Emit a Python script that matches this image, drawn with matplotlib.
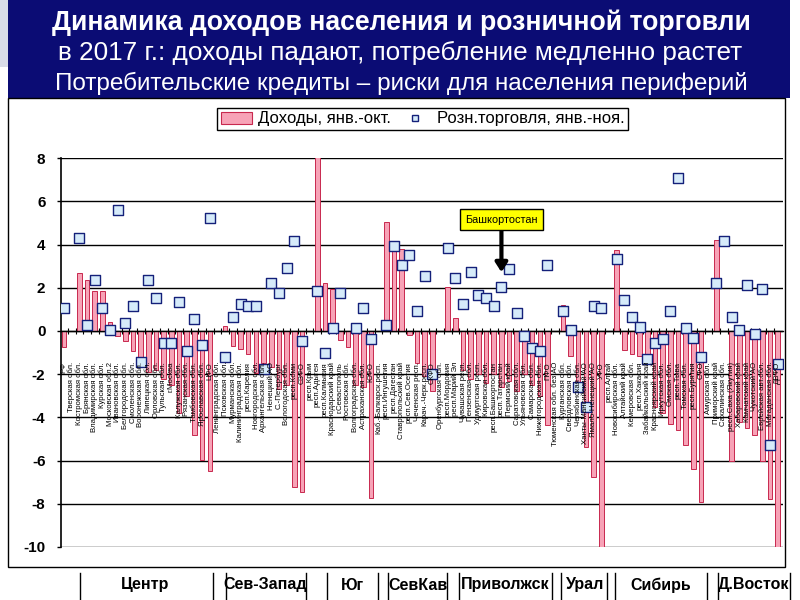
import numpy as np
import matplotlib
matplotlib.use("Agg")
import matplotlib.pyplot as plt
from matplotlib.patches import Rectangle, Patch
from matplotlib.lines import Line2D

plt.rcParams['font.family'] = ['Liberation Sans', 'DejaVu Sans']
FONT = ['Liberation Sans', 'DejaVu Sans']

nan = np.nan
regions = [
    "РФ", "Тверская обл.", "Костромская обл.", "Брянская обл.", "Владимирская обл.",
    "Курская обл.", "Московская обл.2", "Ивановская обл.", "Белгородская обл.",
    "Смоленская обл.", "Воронежская обл.", "Липецкая обл.", "Орловская обл.",
    "Тульская обл.", "г.Москва", "Калужская обл.", "Рязанская обл.", "Тамбовская обл.",
    "Ярославская обл.", "ЦФО",
    "Ленинградская обл.", "Псковская обл.", "Мурманская обл.", "Калининградская обл.",
    "респ.Карелия", "Новгородская обл.", "Архангельская обл.", "Ненецкий АО",
    "С.-Петербург", "Вологодская обл.", "респ.Коми", "СЗФО",
    "респ.Крым", "респ.Адыгея", "респ.Калмыкия", "Краснодарский край", "г.Севастополь",
    "Ростовская обл.", "Волгоградская обл.", "Астраханская обл.", "ЮФО",
    "Каб.-Балкарск.респ.", "респ.Ингушетия", "респ.Дагестан", "Ставропольский край",
    "респ.Сев.Осетия", "Чеченская респ.", "Карач.-Черк.респ.", "СКФО",
    "Оренбургская обл.", "респ.Мордовия", "респ.Марий Эл", "Чувашская респ.",
    "Пензенская обл.", "Удмуртская респ.", "Кировская обл.", "респ.Башкортостан",
    "респ.Татарстан", "Пермский край", "Саратовская обл.", "Ульяновская обл.",
    "Самарская обл.", "Нижегородская обл.", "ПФО",
    "Тюменская обл. без АО", "Курганская обл.", "Свердловская обл.", "Челябинская обл.",
    "Ханты-Мансийский АО", "Ямало-Ненецкий АО", "УФО",
    "респ.Алтай", "Новосибирская обл.", "Алтайский край", "Кемеровская обл.",
    "респ.Хакасия", "Забайкальский край", "Красноярский край", "Иркутская обл.",
    "Омская обл.", "респ.Тыва", "Томская обл.", "респ.Бурятия", "СФО",
    "Амурская обл.", "Приморский край", "Сахалинская обл.", "респ.Саха (Якутия)",
    "Хабаровский край", "Камчатский край", "Чукотский АО", "Еврейская авт.обл.",
    "Магаданская обл.", "ДВФО",
]

income = [
    -0.75, nan, 2.7, 2.35, 1.84, 1.84, 0.4, -0.25, -0.47, -0.93,
    -1.2, -1.9, -1.8, -2.2, -2.5, -3.8, -3.0, -4.8, -5.95, -6.5,
    nan, 0.25, -0.7, -0.85, -1.05, -1.95, -1.5, -1.65, -2.7, -2.5,
    -7.2, -7.45, nan, 8.1, 2.2, 1.93, -0.4, -0.75, -2.5, -2.6,
    -7.75, nan, 5.05, 3.73, 3.8, -0.2, -1.5, -2.1, -2.8, nan,
    2.04, 0.62, -1.8, -2.2, -2.0, -2.4, -2.0, -2.6, -2.3, -2.8,
    -2.0, -2.5, -3.0, -4.35, nan, 1.22, -1.15, -2.8, -5.35, -6.75,
    -10.0, nan, 3.73, -0.86, -1.05, -1.15, -1.35, -3.5, -3.8, -4.3,
    -4.6, -5.3, -6.4, -7.9, nan, 4.2, nan, -6.0, -4.2, -4.5,
    -4.8, -6.0, -7.8, -10.0,
]

retail = [
    1.06, nan, 4.32, 0.26, 2.35, 1.06, 0.03, 5.62, 0.37, 1.16,
    -1.43, 2.35, 1.54, -0.56, -0.56, 1.34, -0.94, 0.54, -0.66, 5.23,
    nan, -1.2, 0.65, 1.23, 1.16, 1.16, -1.74, 2.22, 1.76, 2.93,
    4.15, -0.46, nan, 1.85, -1.0, 0.15, 1.76, nan, 0.15, 1.06,
    -0.37, nan, 0.26, 3.93, 3.04, 3.53, 0.93, 2.55, -2.0, nan,
    3.86, 2.45, 1.23, 2.73, 1.65, 1.54, 1.16, 2.04, 2.85, 0.83,
    -0.23, -0.77, -0.93, 3.04, nan, 0.93, 0.06, -2.6, -3.5, 1.16,
    1.06, nan, 3.35, 1.45, 0.65, 0.19, -1.31, -0.54, -0.37, 0.93,
    7.1, 0.15, -0.33, -1.19, nan, 2.22, 4.15, 0.65, 0.06, 2.15,
    -0.12, 1.96, -5.28, -1.51,
]

groups = ["Центр", "Сев-Запад", "Юг", "СевКав", "Приволжск", "Урал", "Сибирь", "Д.Восток"]

W, H = 800, 600
fig = plt.figure(figsize=(8, 6), dpi=100)
fig.patch.set_facecolor('white')

def fx(px):
    return px / W

def fy(py):
    return 1 - py / H

# title band
fig.add_artist(Rectangle((0, fy(67)), fx(8), 67 / H, transform=fig.transFigure,
                         facecolor='#d9dce8', edgecolor='none', zorder=0))
fig.add_artist(Rectangle((fx(8), fy(98)), fx(782), 98 / H, transform=fig.transFigure,
                         facecolor='#0b0c74', edgecolor='none', zorder=1))
fig.text(fx(401), fy(23), "Динамика доходов населения и розничной торговли", color='white',
         fontsize=19.2, fontweight='bold', ha='center', va='center', family=FONT)
fig.text(fx(400), fy(53), "в 2017 г.: доходы падают, потребление медленно растет", color='white',
         fontsize=18.8, ha='center', va='center', family=FONT)
fig.text(fx(401), fy(83), "Потребительские кредиты – риски для населения периферий", color='white',
         fontsize=17.5, ha='center', va='center', family=FONT)

# chart frame
fig.add_artist(Rectangle((fx(8), fy(567)), fx(777), (567 - 98) / H, transform=fig.transFigure,
                         facecolor='none', edgecolor='black', lw=1.0, zorder=2))

ax = fig.add_axes([fx(60.7), fy(547), fx(722), (547 - 158.2) / H])
x = np.arange(len(regions))

bars = ax.bar(x, income, width=0.6, color='#f7a3b7', edgecolor='#c8284e', lw=0.7, zorder=3,
              label="Доходы, янв.-окт.")
pts = ax.scatter(x, retail, marker='s', s=44, facecolor='#d6ebfa', edgecolor='#14207a',
                 lw=1.0, zorder=5, label="Розн.торговля, янв.-ноя.")

for i, lab in enumerate(regions):
    ax.text(i, -1.43, lab, rotation=90, va='top', ha='center', fontsize=5.6,
            family=FONT, zorder=6, color='black')

ax.set_xlim(-0.43, 93.65)
ax.set_ylim(-10, 8)
ax.set_yticks(np.arange(-10, 9, 2))
ax.set_yticklabels([str(v) for v in range(-10, 9, 2)], fontsize=11, fontweight='bold')
ax.tick_params(axis='y', length=3, width=1, pad=8)
ax.grid(axis='y', color='black', lw=1.0, zorder=1)
ax.set_axisbelow(True)
for s in ['top', 'right']:
    ax.spines[s].set_visible(False)
ax.spines['left'].set_linewidth(1.2)
ax.spines['bottom'].set_position(('data', 0))
ax.spines['bottom'].set_linewidth(1.0)
ax.spines['bottom'].set_zorder(4)
ax.set_xticks(x[:-1] + 0.5)
ax.set_xticklabels([])
ax.tick_params(axis='x', direction='inout', length=4, width=0.8)

# callout
ax.annotate("Башкортостан", xy=(57, 2.72), xytext=(57, 5.16), fontsize=7.8,
            ha='center', va='center', zorder=8,
            bbox=dict(boxstyle='square,pad=0.5', facecolor='#ffff00', edgecolor='black', lw=1),
            arrowprops=dict(arrowstyle='-|>,head_width=0.45,head_length=0.7', color='black',
                            lw=3, shrinkA=0, shrinkB=0))

leg = fig.legend(handles=[Patch(facecolor='#f7a3b7', edgecolor='#c8284e', lw=0.8),
                          Line2D([], [], ls='none', marker='s', markersize=5,
                                 markerfacecolor='#d6ebfa', markeredgecolor='#14207a')],
                 labels=["Доходы, янв.-окт.", "Розн.торговля, янв.-ноя."],
                 loc='center', bbox_to_anchor=(fx(422.5), fy(119)), ncol=2, frameon=True,
                 fancybox=False, edgecolor='black', framealpha=1,
                 handlelength=1.9, handleheight=0.75, columnspacing=0.5, borderpad=0.2,
                 handletextpad=0.35, borderaxespad=0, prop={'family': FONT, 'size': 12})
leg.get_frame().set_linewidth(1.0)

# group labels row
seps = [79.5, 212.8, 225.6, 306, 326.7, 378, 388, 447, 459, 552, 560.5, 606.7,
        615.4, 706.7, 718, 789.7]
for sx in seps:
    fig.add_artist(Line2D([fx(sx), fx(sx)], [fy(573), fy(600)], transform=fig.transFigure,
                          color='black', lw=1))
centers = [145, 265, 352, 418, 505, 585, 661, 754]
for g, cx in zip(groups, centers):
    fig.text(fx(cx), fy(585), g, fontsize=11.5, fontweight='bold', ha='center', va='center',
             family=FONT)

fig.savefig("out.png", dpi=100)
